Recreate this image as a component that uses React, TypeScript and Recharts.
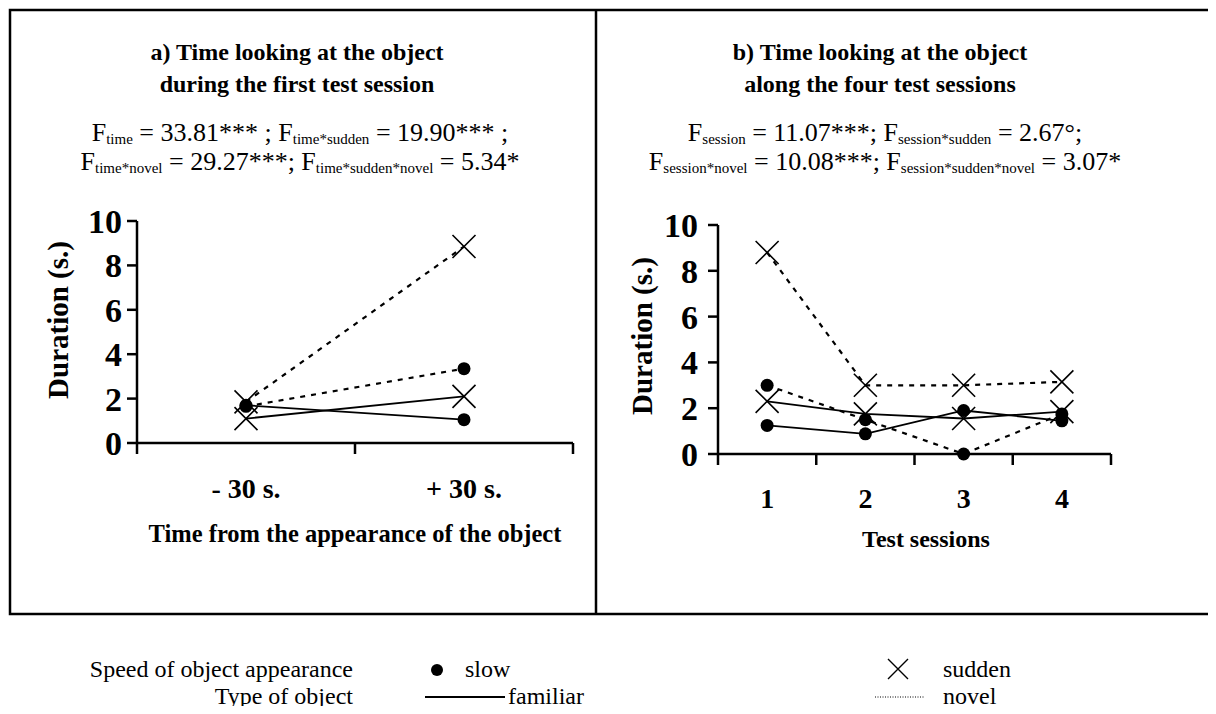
import React from 'react';
import { LineChart, Line, XAxis, YAxis } from 'recharts';

const FONT = '"Liberation Serif", "Times New Roman", Times, serif';

// Panel a data
const TIME_CATS = ['- 30 s.', '+ 30 s.'];
const A_FAMILIAR_SLOW = [1.7, 1.05];
const A_FAMILIAR_SUDDEN = [1.1, 2.1];
const A_NOVEL_SLOW = [1.65, 3.35];
const A_NOVEL_SUDDEN = [1.85, 8.85];

// Panel b data
const SESSIONS = ['1', '2', '3', '4'];
const B_FAMILIAR_SLOW = [1.25, 0.88, 1.9, 1.45];
const B_FAMILIAR_SUDDEN = [2.3, 1.75, 1.55, 1.85];
const B_NOVEL_SLOW = [3.0, 1.5, 0, 1.75];
const B_NOVEL_SUDDEN = [8.8, 3.0, 3.0, 3.15];

const Y_TICKS = [0, 2, 4, 6, 8, 10];

const dataA = TIME_CATS.map((c, i) => ({
  cat: c,
  fs: A_FAMILIAR_SLOW[i],
  fu: A_FAMILIAR_SUDDEN[i],
  ns: A_NOVEL_SLOW[i],
  nu: A_NOVEL_SUDDEN[i],
}));
const dataB = SESSIONS.map((c, i) => ({
  cat: c,
  fs: B_FAMILIAR_SLOW[i],
  fu: B_FAMILIAR_SUDDEN[i],
  ns: B_NOVEL_SLOW[i],
  nu: B_NOVEL_SUDDEN[i],
}));

const DotMark = (props: any) => {
  const { cx, cy, index } = props;
  if (cx == null || cy == null) return <g key={index} />;
  return <circle key={index} cx={cx} cy={cy} r={6.5} fill="#000" />;
};
const XMark = (props: any) => {
  const { cx, cy, index } = props;
  if (cx == null || cy == null) return <g key={index} />;
  const s = 11.5;
  return (
    <path
      key={index}
      d={`M${cx - s},${cy - s}L${cx + s},${cy + s}M${cx - s},${cy + s}L${cx + s},${cy - s}`}
      stroke="#000"
      strokeWidth={1.6}
      fill="none"
    />
  );
};

const makeXTick = (band: number, n: number, dyLabel: number) => (props: any) => {
  const { x, y, payload, index } = props;
  const left = x - band / 2;
  const right = x + band / 2;
  return (
    <g>
      <line x1={left} y1={y} x2={left} y2={y + 11} stroke="#000" strokeWidth={2.5} />
      {index === n - 1 && (
        <line x1={right} y1={y} x2={right} y2={y + 11} stroke="#000" strokeWidth={2.5} />
      )}
      <text
        x={x}
        y={y + dyLabel}
        textAnchor="middle"
        fontFamily={FONT}
        fontWeight="bold"
        fontSize={28}
        fill="#000"
      >
        {payload.value}
      </text>
    </g>
  );
};

const renderLines = () => [
  <Line key="fs" dataKey="fs" stroke="#000" strokeWidth={1.8} dot={DotMark} activeDot={false} isAnimationActive={false} />,
  <Line key="fu" dataKey="fu" stroke="#000" strokeWidth={1.8} dot={XMark} activeDot={false} isAnimationActive={false} />,
  <Line key="ns" dataKey="ns" stroke="#000" strokeWidth={2.2} strokeDasharray="5 6" dot={DotMark} activeDot={false} isAnimationActive={false} />,
  <Line key="nu" dataKey="nu" stroke="#000" strokeWidth={2.2} strokeDasharray="5 6" dot={XMark} activeDot={false} isAnimationActive={false} />,
];

const axisLine = { stroke: '#000', strokeWidth: 2.5 };
const yTickStyle = { fontSize: 34, fontWeight: 'bold', fill: '#000', fontFamily: FONT };

const XGlyph = ({ cx, cy, s }: { cx: number; cy: number; s: number }) => (
  <path d={`M${cx - s},${cy - s}L${cx + s},${cy + s}M${cx - s},${cy + s}L${cx + s},${cy - s}`} stroke="#000" strokeWidth={1.4} fill="none" />
);

const Sub = ({ children }: { children: any }) => (
  <tspan fontSize={15} dy={3}>{children}</tspan>
);

export default function App() {
  const txt = { fontFamily: FONT, fill: '#000' } as any;
  return (
    <div style={{ position: 'relative', width: 1216, height: 714, margin: -8, background: '#fff', overflow: 'hidden' }}>
      <svg width={1216} height={714} style={{ position: 'absolute', left: 0, top: 0 }}>
        {/* frame */}
        <rect x={10} y={10} width={1212} height={604} fill="none" stroke="#000" strokeWidth={2.5} />
        <line x1={596} y1={10} x2={596} y2={614} stroke="#000" strokeWidth={2.5} />

        {/* titles panel a */}
        <text {...txt} x={297} y={60} textAnchor="middle" fontWeight="bold" fontSize={24}>a) Time looking at the object</text>
        <text {...txt} x={297} y={92} textAnchor="middle" fontWeight="bold" fontSize={24}>during the first test session</text>
        <text {...txt} x={300} y={141} textAnchor="middle" fontSize={26}>
          F<Sub>time</Sub>
          <tspan dy={-3}> = 33.81*** ; F</tspan>
          <Sub>time*sudden</Sub>
          <tspan dy={-3}> = 19.90*** ;</tspan>
        </text>
        <text {...txt} x={300} y={170} textAnchor="middle" fontSize={26}>
          F<Sub>time*novel</Sub>
          <tspan dy={-3}> = 29.27***; F</tspan>
          <Sub>time*sudden*novel</Sub>
          <tspan dy={-3}> = 5.34*</tspan>
        </text>

        {/* titles panel b */}
        <text {...txt} x={880} y={60} textAnchor="middle" fontWeight="bold" fontSize={24}>b) Time looking at the object</text>
        <text {...txt} x={880} y={92} textAnchor="middle" fontWeight="bold" fontSize={24}>along the four test sessions</text>
        <text {...txt} x={885} y={141} textAnchor="middle" fontSize={26}>
          F<Sub>session</Sub>
          <tspan dy={-3}> = 11.07***; F</tspan>
          <Sub>session*sudden</Sub>
          <tspan dy={-3}> = 2.67°;</tspan>
        </text>
        <text {...txt} x={885} y={170} textAnchor="middle" fontSize={26}>
          F<Sub>session*novel</Sub>
          <tspan dy={-3}> = 10.08***; F</tspan>
          <Sub>session*sudden*novel</Sub>
          <tspan dy={-3}> = 3.07*</tspan>
        </text>

        {/* axis titles */}
        <text {...txt} x={58} y={320} transform="rotate(-90 58 320)" textAnchor="middle" dominantBaseline="central" fontWeight="bold" fontSize={29}>Duration (s.)</text>
        <text {...txt} x={642} y={336} transform="rotate(-90 642 336)" textAnchor="middle" dominantBaseline="central" fontWeight="bold" fontSize={29}>Duration (s.)</text>
        <text {...txt} x={355} y={542} textAnchor="middle" fontWeight="bold" fontSize={24.5}>Time from the appearance of the object</text>
        <text {...txt} x={926} y={547} textAnchor="middle" fontWeight="bold" fontSize={24}>Test sessions</text>

        {/* legend */}
        <text {...txt} x={353} y={677} textAnchor="end" fontSize={24}>Speed of object appearance</text>
        <circle cx={437} cy={670} r={6} fill="#000" />
        <text {...txt} x={465} y={677} fontSize={24}>slow</text>
        <XGlyph cx={898} cy={669} s={10} />
        <text {...txt} x={943} y={677} fontSize={24}>sudden</text>
        <text {...txt} x={353} y={704} textAnchor="end" fontSize={24}>Type of object</text>
        <line x1={425} y1={697} x2={505} y2={697} stroke="#000" strokeWidth={2} />
        <text {...txt} x={508} y={704} fontSize={24}>familiar</text>
        <line x1={875} y1={697} x2={925} y2={697} stroke="#000" strokeWidth={1} strokeDasharray="1 1.5" />
        <text {...txt} x={943} y={704} fontSize={24}>novel</text>
      </svg>

      {/* Panel a chart */}
      <div style={{ position: 'absolute', left: 0, top: 200 }}>
        <LineChart width={600} height={360} data={dataA} margin={{ top: 21, right: 27, bottom: 0, left: 0 }}>
          <XAxis dataKey="cat" scale="band" height={117} tickSize={0} tickMargin={0} tickLine={false} axisLine={axisLine}
            tick={makeXTick(218, TIME_CATS.length, 55)} interval={0} />
          <XAxis xAxisId="top" dataKey="cat" orientation="top" height={0} tick={false} tickLine={false} axisLine={axisLine} />
          <YAxis domain={[0, 10]} ticks={Y_TICKS} width={137} tickSize={10} tickMargin={5} tickLine={axisLine} axisLine={axisLine} tick={yTickStyle} interval={0} />
          <YAxis yAxisId="right" orientation="right" domain={[0, 10]} width={0} tick={false} tickLine={false} axisLine={axisLine} />
          {renderLines()}
        </LineChart>
      </div>

      {/* Panel b chart */}
      <div style={{ position: 'absolute', left: 600, top: 200 }}>
        <LineChart width={540} height={360} data={dataB} margin={{ top: 25, right: 29, bottom: 0, left: 0 }}>
          <XAxis dataKey="cat" scale="band" height={106} tickSize={0} tickMargin={0} tickLine={false} axisLine={axisLine}
            tick={makeXTick(98.25, SESSIONS.length, 54)} interval={0} />
          <XAxis xAxisId="top" dataKey="cat" orientation="top" height={0} tick={false} tickLine={false} axisLine={axisLine} />
          <YAxis domain={[0, 10]} ticks={Y_TICKS} width={118} tickSize={10} tickMargin={10} tickLine={axisLine} axisLine={axisLine} tick={yTickStyle} interval={0} />
          <YAxis yAxisId="right" orientation="right" domain={[0, 10]} width={0} tick={false} tickLine={false} axisLine={axisLine} />
          {renderLines()}
        </LineChart>
      </div>
    </div>
  );
}
